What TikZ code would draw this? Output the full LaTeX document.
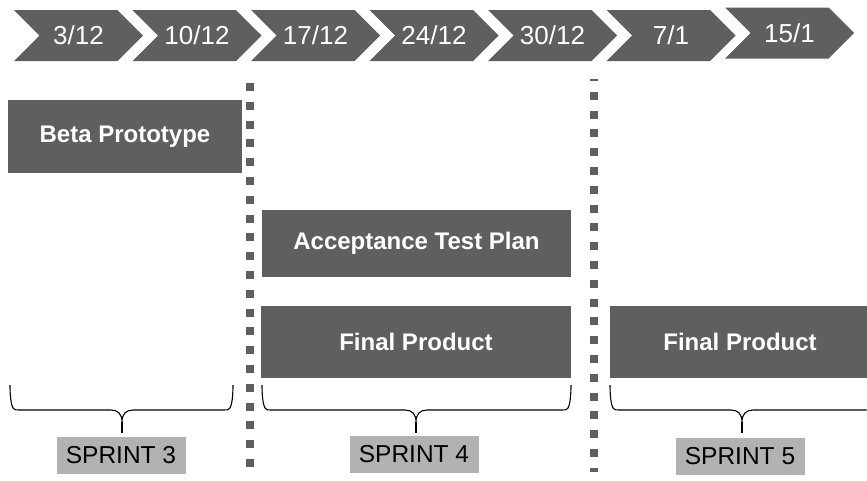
\documentclass[tikz,border=0pt]{standalone}
\usepackage{fontspec}
\setmainfont{Liberation Sans}
\usetikzlibrary{shapes.symbols}

\definecolor{taskgray}{HTML}{5F5F5F}
\definecolor{sprintgray}{HTML}{B2B2B2}

% curly brace under a sprint: left x, centre x, right x
\newcommand{\sprintbrace}[3]{%
  \draw[brace] (#1,385) .. controls (#1,395) and (#1+1,405) .. (#1+3,408)
    .. controls (#1+4,410) and (#1+6,410) .. (#1+9,410)
    -- (#2-11,410) .. controls (#2-4,410) and (#2,414) .. (#2,422)
    .. controls (#2,414) and (#2+4,410) .. (#2+11,410)
    -- (#3-9,410) .. controls (#3-6,410) and (#3-4,410) .. (#3-3,408)
    .. controls (#3-1,405) and (#3,395) .. (#3,385);
  \draw[brace] (#2,422) -- (#2,433);
}

\begin{document}
\begin{tikzpicture}[
         x=1pt, y=-1pt,
         date/.style={signal, signal from=west, signal to=east, fill=taskgray,
                      text=white, font=\fontsize{26}{26}\selectfont,
                      minimum width=129pt, minimum height=51pt, inner sep=0pt},
         task/.style={fill=taskgray, text=white, inner sep=0pt,
                      font=\fontsize{24}{24}\selectfont\bfseries},
         sprint/.style={fill=sprintgray, minimum width=129pt, minimum height=37pt,
                        inner sep=0pt, font=\fontsize{24.5}{24.5}\selectfont},
         sep/.style={draw=taskgray, line width=8pt, dash pattern=on 8pt off 10.8pt},
         brace/.style={draw=black, line width=1.1pt}
      ]
         \useasboundingbox (0,0) rectangle (867,480);
         \clip (0,0) rectangle (867,480);

         % Timeline of dates
         \foreach \a/\b [count=\i] in {3/12,10/12,17/12,24/12,30/12,7/1,15/1}
            \node[date] (date\i) at ({78.5+118.5*(\i-1)}, {\i==7 ? 33 : 35.5}) {\a/\b};

         % Sprint separators
         \draw[sep] (250,83) -- (250,470);
         \draw[sep, dash phase=6pt] (594,79) -- (594,472);

         % Tasks
         \node[task, minimum width=234pt, minimum height=73pt] (beta) at (125,136.5) {Beta Prototype};
         \node[task, minimum width=309pt, minimum height=67pt] (plan) at (416.5,243) {Acceptance Test Plan};
         \node[task, minimum width=310pt, minimum height=72pt] (final4) at (416,342) {Final Product};
         \node[task, minimum width=260pt, minimum height=72pt] (final5) at (740,342) {Final Product};

         % Sprints
         \sprintbrace{10}{122}{233}
         \sprintbrace{262}{416}{571}
         \sprintbrace{610}{742}{874}
         \node[sprint] (sprint3) at (121,455) {SPRINT 3};
         \node[sprint] (sprint4) at (414,454) {SPRINT 4};
         \node[sprint] (sprint5) at (740,456) {SPRINT 5};
      \end{tikzpicture}
\end{document}
